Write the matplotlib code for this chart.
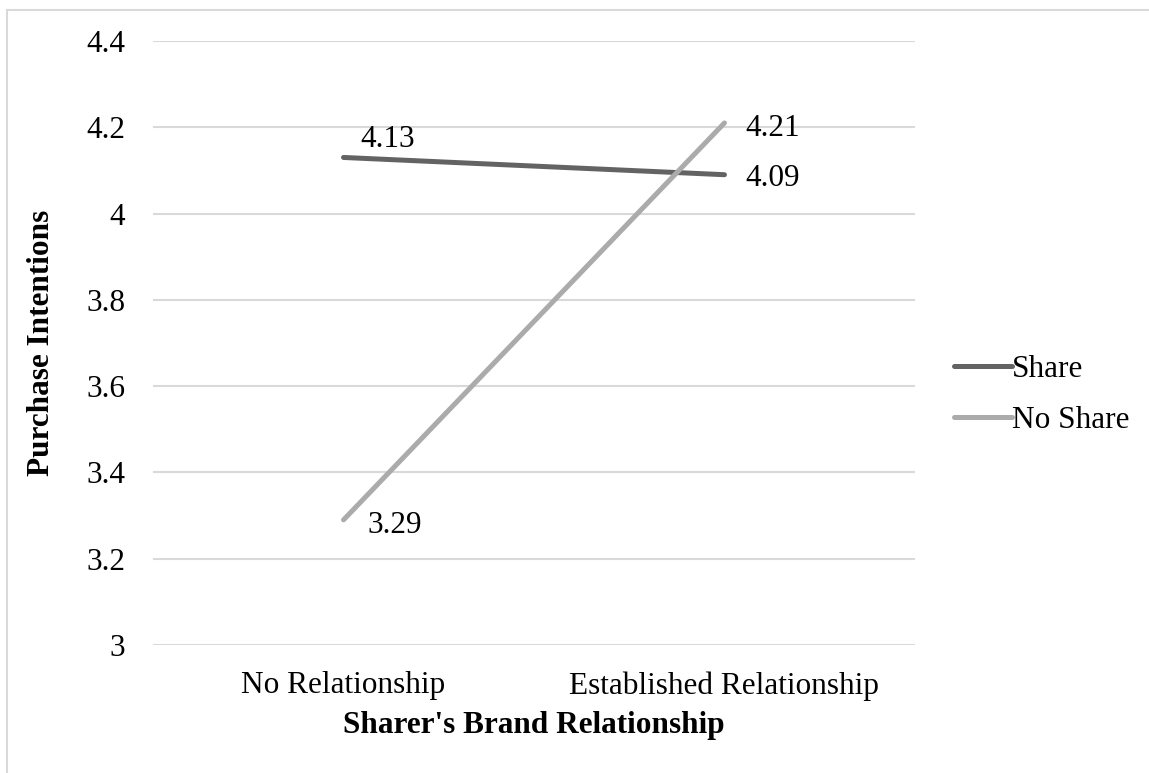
import matplotlib.pyplot as plt
from matplotlib.patches import Rectangle

plt.rcParams['font.family'] = ['Liberation Serif', 'DejaVu Serif']

categories = ['No Relationship', 'Established Relationship']
share = [4.13, 4.09]
no_share = [3.29, 4.21]
yticks = [3, 3.2, 3.4, 3.6, 3.8, 4, 4.2, 4.4]
ytick_labels = ['3', '3.2', '3.4', '3.6', '3.8', '4', '4.2', '4.4']

fig = plt.figure(figsize=(11.49, 7.73), dpi=100)
ax = fig.add_axes([0.1332, 0.1656, 0.6631, 0.7814])

# outer chart border
fig.patches.append(Rectangle((7/1149, -0.1), 1.2, 1 - 10/773 + 0.1, transform=fig.transFigure,
                             fill=False, edgecolor='#d9d9d9', linewidth=1.5))

x = [0, 1]
ax.plot(x, share, color='#636363', lw=3.6, solid_capstyle='round', label='Share', zorder=3)
ax.plot(x, no_share, color='#ababab', lw=3.6, solid_capstyle='round', label='No Share', zorder=3)

# data labels
fs = 22.5
ax.annotate(f'{share[0]:.2f}', (x[0], share[0]), xytext=(12, 13), textcoords='offset points',
            fontsize=fs, va='center', ha='left')
ax.annotate(f'{share[1]:.2f}', (x[1], share[1]), xytext=(15, -3), textcoords='offset points',
            fontsize=fs, va='center', ha='left')
ax.annotate(f'{no_share[0]:.2f}', (x[0], no_share[0]), xytext=(17, -4), textcoords='offset points',
            fontsize=fs, va='center', ha='left')
ax.annotate(f'{no_share[1]:.2f}', (x[1], no_share[1]), xytext=(15, -4), textcoords='offset points',
            fontsize=fs, va='center', ha='left')

ax.set_xlim(-0.5, 1.5)
ax.set_ylim(3, 4.4)
ax.set_yticks(yticks)
ax.set_yticklabels(ytick_labels)
ax.set_xticks(x)
ax.set_xticklabels(categories)
ax.tick_params(axis='both', length=0, labelsize=fs)
ax.tick_params(axis='y', pad=20)
ax.tick_params(axis='x', pad=19)
ax.grid(axis='y', color='#d9d9d9', linewidth=1.5)
ax.set_axisbelow(True)
for s in ax.spines.values():
    s.set_visible(False)

ax.set_xlabel("Sharer's Brand Relationship", fontsize=fs, fontweight='bold', labelpad=7)
ax.set_ylabel('Purchase Intentions', fontsize=fs, fontweight='bold', labelpad=22)

ax.legend(loc='center left', bbox_to_anchor=(1.035, 0.414), frameon=False, fontsize=fs,
          handlelength=1.85, handletextpad=0.0, labelspacing=0.7, borderaxespad=0)

fig.savefig('out.png', dpi=100)
